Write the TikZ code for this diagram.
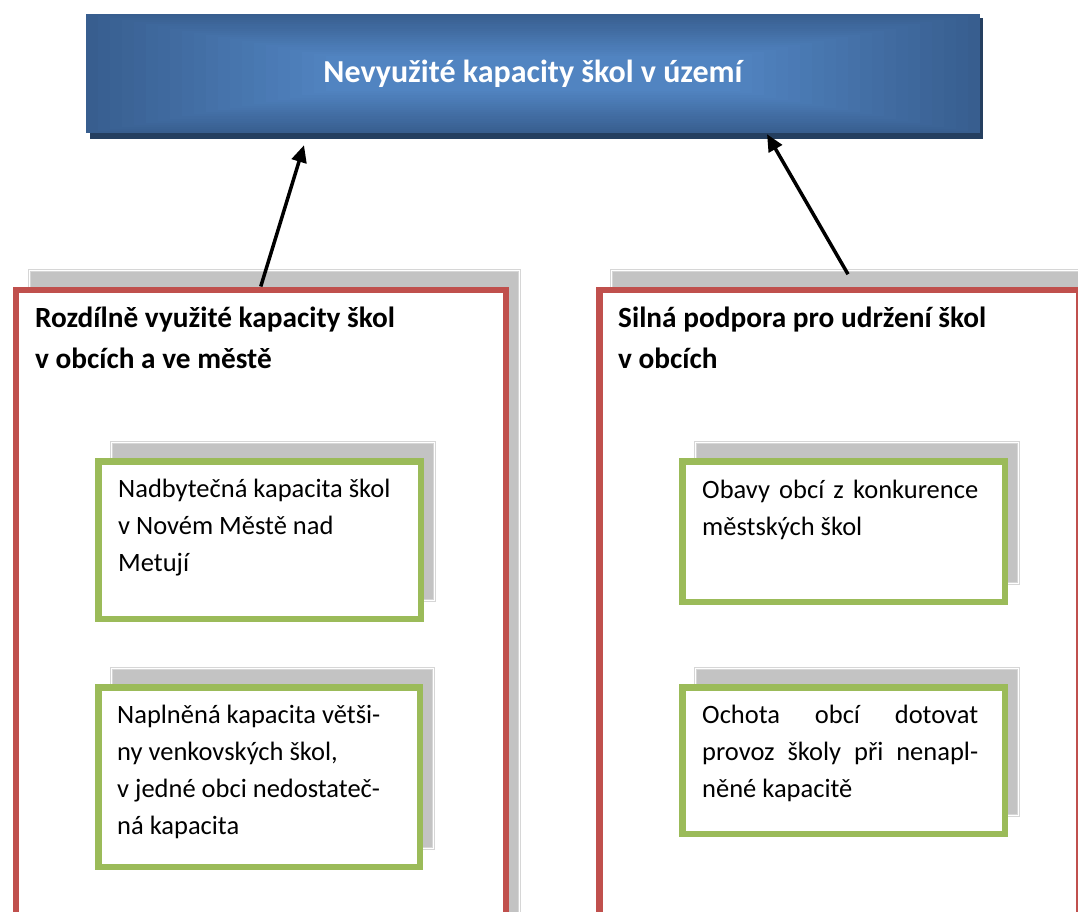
\documentclass[tikz,border=0pt]{standalone}
\usepackage{fontspec}
\setmainfont{Carlito}
\usetikzlibrary{arrows.meta,calc}
\definecolor{blueedge}{RGB}{56,94,143}
\definecolor{bluecenter}{RGB}{81,132,193}
\definecolor{blueshadow}{RGB}{37,63,96}
\definecolor{redb}{RGB}{192,80,77}
\definecolor{greenb}{RGB}{155,187,89}
\definecolor{shgray}{RGB}{195,195,195}
\definecolor{shline}{RGB}{214,214,214}
\begin{document}
\begin{tikzpicture}[x=1pt,y=-1pt,
  grayshadow/.style={draw=shline, line width=1.2pt, double=white, double distance=0.8pt, fill=shgray, inner sep=0pt, anchor=north west},
  redbox/.style={draw=redb, line width=6.5pt, fill=white, inner sep=0pt, anchor=north west},
  greenbox/.style={draw=greenb, line width=6.5pt, fill=white, inner sep=0pt, anchor=north west},
  topbox/.style={minimum width=894pt, minimum height=119pt, inner sep=0pt},
  toptext/.style={font=\fontsize{32}{38}\selectfont\bfseries, text=white, inner sep=0pt},
  titletext/.style={font=\fontsize{29.3}{41}\selectfont\bfseries, align=flush left, text width=460pt, inner sep=0pt, anchor=north west},
  bodytext/.style={font=\fontsize{26.5}{37}\selectfont, align=flush left, text width=290pt, inner sep=0pt, anchor=north west},
  arr/.style={line width=3.5pt, -{Triangle[length=17pt,width=15pt]}}
]
\useasboundingbox (0,0) rectangle (1078,911);
\clip (0,0) rectangle (1078,911);

% top box
\node[topbox] (T) at (533,73.5) {};
\fill[blueshadow] ($(T.north west)+(4,4)$) rectangle ($(T.south east)+(3,6)$);
\foreach \i in {0,...,20}{
  \pgfmathsetmacro\t{5*\i}
  \fill[bluecenter!\t!blueedge] ($(T.north west)+(12*\i,2.1*\i)$) rectangle ($(T.south east)+(-12*\i,-2.1*\i)$);
}
\node[toptext] (Tt) at (T.center) {Nevyužité kapacity škol v území};

% left column
\node[grayshadow, minimum width=490pt, minimum height=700pt] (Ls) at (28.75,270.25) {};
\node[redbox, minimum width=490pt, minimum height=700pt] (L) at (12.5,286.5) {};
\node[titletext] (Lt) at (35,298.3) {\strut Rozdílně využité kapacity škol\\v obcích a ve městě};

\node[grayshadow, minimum width=322.5pt, minimum height=157.5pt] (L1s) at (111.25,442.25) {};
\node[greenbox, minimum width=322.5pt, minimum height=157.5pt] (L1) at (95.25,458.25) {};
\node[bodytext] (L1t) at (118,471.1) {\strut Nadbytečná kapacita škol\\v Novém Městě nad\\Metují};

\node[grayshadow, minimum width=321.5pt, minimum height=179.5pt] (L2s) at (111.25,668.25) {};
\node[greenbox, minimum width=321.5pt, minimum height=179.5pt] (L2) at (95.25,684.25) {};
\node[bodytext] (L2t) at (117,697.1) {\strut Naplněná kapacita větši-\\ny venkovských škol,\\v jedné obci nedostateč-\\ná kapacita};

% right column
\node[grayshadow, minimum width=479pt, minimum height=700pt] (Rs) at (611.25,270.25) {};
\node[redbox, minimum width=479.25pt, minimum height=700pt] (R) at (596.25,286.5) {};
\node[titletext] (Rt) at (618,298.3) {\strut Silná podpora pro udržení škol\\v obcích};

\node[grayshadow, minimum width=322.5pt, minimum height=140.5pt] (R1s) at (695.25,442.25) {};
\node[greenbox, minimum width=322.5pt, minimum height=140.5pt] (R1) at (679.25,458.25) {};
\node[bodytext, text width=276pt] (R1t) at (702,472.1) {\strut\hbox to 276pt{Obavy\hfill obcí\hfill z\hfill konkurence}\\\leavevmode městských škol};

\node[grayshadow, minimum width=322.5pt, minimum height=146.5pt] (R2s) at (695.25,668.25) {};
\node[greenbox, minimum width=322.5pt, minimum height=146.5pt] (R2) at (679.25,684.25) {};
\node[bodytext, text width=276pt] (R2t) at (702,697.1) {\strut\hbox to 276pt{Ochota\hfill obcí\hfill dotovat}\\\leavevmode\hbox to 276pt{provoz\hfill školy\hfill při\hfill nenapl-}\\\leavevmode něné kapacitě};

% arrows
\coordinate (a1s) at (L.north);
\coordinate (a1e) at ($(T.south)+(-229,12)$);
\coordinate (a2s) at ($(T.south)+(315,141)$);
\coordinate (a2e) at ($(T.south)+(234,1)$);
\draw[arr] (a1s) -- (a1e);
\draw[arr] (a2s) -- (a2e);
\end{tikzpicture}
\end{document}
